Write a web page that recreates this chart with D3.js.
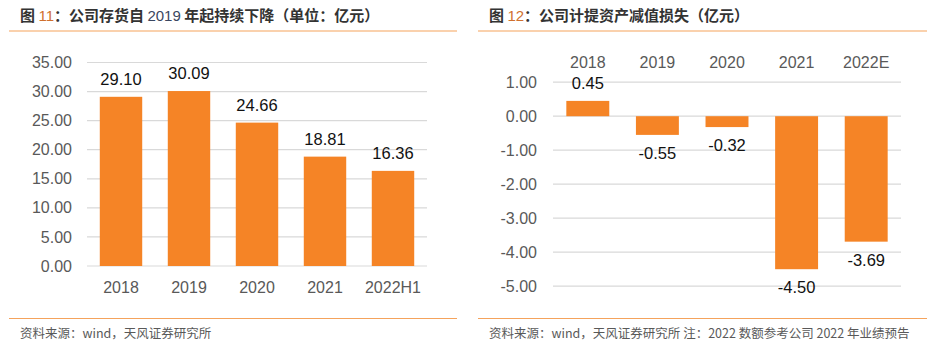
<!DOCTYPE html>
<html><head><meta charset="utf-8">
<script src="https://cdn.jsdelivr.net/npm/d3@7/dist/d3.min.js"></script>
<style>
body{margin:0;background:#fff;}
svg{display:block;}
</style></head>
<body><svg id="c" width="938" height="342"></svg>
<script>
const invCategories = ["2018","2019","2020","2021","2022H1"];
const invValues = [29.10, 30.09, 24.66, 18.81, 16.36];
const invTicks = [0,5,10,15,20,25,30,35];

const impCategories = ["2018","2019","2020","2021","2022E"];
const impValues = [0.45, -0.55, -0.32, -4.50, -3.69];
const impTicks = [1,0,-1,-2,-3,-4,-5];

const svg = d3.select("#c");
const BAR = "#F58426";
const GRID = "#d9d9d9";
const AX = "#595959";
const NUMF = "'Liberation Sans', Arial, sans-serif";
const CJK = "'Noto Sans CJK SC', 'Noto Sans', sans-serif";
const fmt = d => d3.format(".2f")(d).replace("\u2212", "-");

function frame(x0, x1, titleParts, footer){
  const t = svg.append("text").attr("x", x0+11).attr("y", 20.5)
    .attr("font-family", CJK).attr("font-size", 15).attr("font-weight", "bold").attr("fill", "#333");
  titleParts.forEach(p => t.append("tspan").attr("fill", p[1]).attr("font-weight", p[2]||"bold").attr("font-family", p[3]||CJK).text(p[0]));
  svg.append("line").attr("x1", x0).attr("x2", x1).attr("y1", 31).attr("y2", 31).attr("stroke", "#f5a35c").attr("stroke-width", 1.2);
  svg.append("line").attr("x1", x0).attr("x2", x1).attr("y1", 318.5).attr("y2", 318.5).attr("stroke", "#f5a35c").attr("stroke-width", 1.2);
  svg.append("text").attr("x", x0+11).attr("y", 338).attr("font-family", CJK).attr("font-size", 12.5).attr("fill", "#595959").text(footer);
}

frame(9, 457, [["图 ","#333"],["11","#d0702e","normal",NUMF],["：公司存货自 ","#333"],["2019","#3a4660","normal",NUMF],[" 年起持续下降（单位：亿元）","#333"]], "资料来源：wind，天风证券研究所");
frame(478, 927, [["图 ","#333"],["12","#d0702e","normal",NUMF],["：公司计提资产减值损失（亿元）","#333"]], "资料来源：wind，天风证券研究所  注：2022 数额参考公司 2022 年业绩预告");

// Left chart
{
  const x = d3.scaleBand().domain(invCategories).range([87, 427]).paddingInner(0.376).paddingOuter(0.188);
  const y = d3.scaleLinear().domain([0, 35]).range([266, 62.5]);
  const g = svg.append("g");
  g.selectAll("line.grid").data(invTicks).join("line")
    .attr("x1", 87).attr("x2", 427).attr("y1", d => y(d)).attr("y2", d => y(d))
    .attr("stroke", GRID).attr("stroke-width", 1.2);
  g.selectAll("text.yt").data(invTicks).join("text")
    .attr("x", 72).attr("y", d => y(d)).attr("dy", "0.35em").attr("text-anchor", "end")
    .attr("font-family", NUMF).attr("font-size", 16).attr("fill", AX).text(fmt);
  g.selectAll("rect").data(invValues).join("rect")
    .attr("x", (d,i) => x(invCategories[i])).attr("width", x.bandwidth())
    .attr("y", d => y(d)).attr("height", d => y(0) - y(d)).attr("fill", BAR);
  g.selectAll("text.v").data(invValues).join("text")
    .attr("x", (d,i) => x(invCategories[i]) + x.bandwidth()/2).attr("y", d => y(d) - 12)
    .attr("text-anchor", "middle").attr("font-family", NUMF).attr("font-size", 16.5).attr("fill", "#111")
    .text(fmt);
  g.selectAll("text.xc").data(invCategories).join("text")
    .attr("x", d => x(d) + x.bandwidth()/2).attr("y", 287).attr("dy", "0.35em")
    .attr("text-anchor", "middle").attr("font-family", NUMF).attr("font-size", 16).attr("fill", AX).text(d => d);
}

// Right chart
{
  const x = d3.scaleBand().domain(impCategories).range([553, 901]).paddingInner(0.383).paddingOuter(0.1915);
  const y = d3.scaleLinear().domain([1, -5]).range([82.2, 286.2]);
  const g = svg.append("g");
  g.selectAll("line.grid").data(impTicks).join("line")
    .attr("x1", 553).attr("x2", 901).attr("y1", d => y(d)).attr("y2", d => y(d))
    .attr("stroke", GRID).attr("stroke-width", 1.2);
  g.selectAll("text.yt").data(impTicks).join("text")
    .attr("x", 537).attr("y", d => y(d)).attr("dy", "0.35em").attr("text-anchor", "end")
    .attr("font-family", NUMF).attr("font-size", 16).attr("fill", AX).text(fmt);
  g.selectAll("rect").data(impValues).join("rect")
    .attr("x", (d,i) => x(impCategories[i])).attr("width", x.bandwidth())
    .attr("y", d => y(Math.max(0, d))).attr("height", d => Math.abs(y(d) - y(0))).attr("fill", BAR);
  g.selectAll("text.v").data(impValues).join("text")
    .attr("x", (d,i) => x(impCategories[i]) + x.bandwidth()/2)
    .attr("y", d => d >= 0 ? y(d) - 12 : y(d) + 24)
    .attr("text-anchor", "middle").attr("font-family", NUMF).attr("font-size", 16.5).attr("fill", "#111")
    .text(fmt);
  g.selectAll("text.xc").data(impCategories).join("text")
    .attr("x", d => x(d) + x.bandwidth()/2).attr("y", 62).attr("dy", "0.35em")
    .attr("text-anchor", "middle").attr("font-family", NUMF).attr("font-size", 16).attr("fill", AX).text(d => d);
}
</script></body></html>
